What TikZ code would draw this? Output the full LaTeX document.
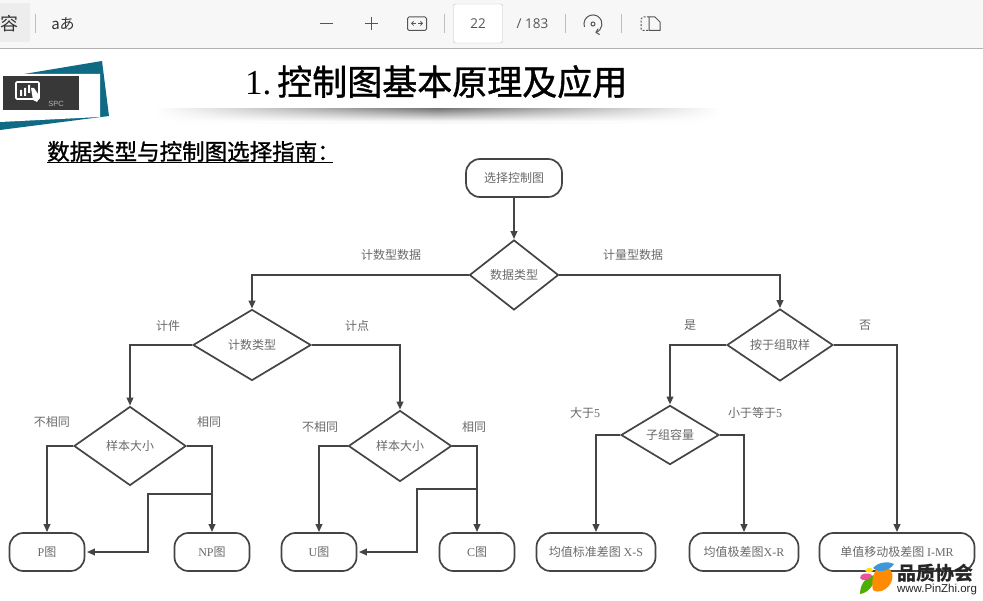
\documentclass[tikz,border=0pt]{standalone}
\usepackage{fontspec}
\setmainfont{Liberation Sans}
\newfontfamily\cjk{Noto Sans CJK SC}
\newfontfamily\cjkm[FakeBold=1.2]{Noto Sans CJK SC}
\newfontfamily\jpf{Noto Sans CJK JP}
\newfontfamily\serifl{Liberation Serif}
\newfontfamily\uif{Open Sans}
\usetikzlibrary{shapes.geometric,arrows.meta}
\definecolor{line}{HTML}{444444}
\definecolor{lab}{HTML}{6A6A6A}
\definecolor{teal1}{HTML}{0F6A84}
\definecolor{tool}{HTML}{555555}
\tikzset{
 conn/.style={draw=line,line width=2pt},
 flow/.style={conn,-{Triangle[length=8pt,width=6.5pt]}},
 dia/.style={diamond,draw=line,line width=1.7pt,inner sep=0pt,fill=white,text=lab,font=\cjk\fontsize{12}{12}\selectfont},
 term/.style={rectangle,rounded corners=14pt,draw=line,line width=1.7pt,inner sep=0pt,minimum height=38pt,text=lab,font=\cjk\fontsize{12}{12}\selectfont},
 lbl/.style={text=lab,inner sep=0pt,font=\cjk\fontsize{12}{12}\selectfont},
 icon/.style={draw=tool,line width=1pt},
}
\newcommand{\lat}[1]{{\serifl #1}}
\begin{document}
\begin{tikzpicture}[x=1pt,y=-1pt]
\useasboundingbox (0,0) rectangle (983,601);
\clip (0,0) rectangle (983,601);
\fill[white] (0,0) rectangle (983,601);
% toolbar
\fill[black!3] (0,0) rectangle (983,48);
\fill[black!7] (0,3) rectangle (30,42);
\draw[black!30,line width=.8pt] (0,48.5) -- (983,48.5);
\node[inner sep=0pt,text=black!80,font=\cjk\fontsize{18}{18}\selectfont] (tb1) at (9,24) {容};
\draw[black!25] (35.5,14) -- (35.5,33);
\node[inner sep=0pt,text=black!80,font=\jpf\fontsize{15}{15}\selectfont] (tb2) at (63,24) {aあ};
\draw[icon] (320,23.5) -- (333,23.5);
\draw[icon] (365,23.5) -- (378,23.5) (371.5,17) -- (371.5,30);
\draw[icon,rounded corners=1.5pt] (407.5,17) rectangle (426.5,30.5);
\draw[tool,line width=.8pt,-{Straight Barb[length=2pt]}] (416,23.5) -- (411,23.5);
\draw[tool,line width=.8pt,-{Straight Barb[length=2pt]}] (418,23.5) -- (423,23.5);
\draw[black!25] (444.5,14) -- (444.5,33);
\node[draw=black!25,fill=white,rounded corners=1.5pt,minimum width=49pt,minimum height=39pt,inner sep=0pt,text=tool,font=\uif\fontsize{13.5}{13.5}\selectfont] (page) at (478,23.5) {22};
\node[inner sep=0pt,text=tool,font=\uif\fontsize{13.5}{13.5}\selectfont] (total) at (532.5,24) {/ 183};
\draw[black!25] (565.5,14) -- (565.5,33);
\draw[icon,-{Straight Barb[length=3pt]}] (584.5,27) arc[start angle=200,end angle=-75,radius=9pt];
\draw[icon] (593,24) circle (2pt);
\draw[black!25] (621.5,14) -- (621.5,33);
\draw[icon,dash pattern=on 2pt off 1.5pt] (649,17) -- (643,17) -- (641,19) -- (641,29) -- (643,30.5) -- (649,30.5);
\draw[icon] (649,17) -- (655,17) -- (660,22) -- (660,30.5) -- (649,30.5) -- cycle;
% logo
\fill[teal1] (0,78) -- (102,61) -- (109,116) -- (0,130) -- cycle;
\fill[white] (0,74) -- (100,74) -- (100,117) -- (0,122) -- cycle;
\fill[black!78] (3,76) rectangle (79,110);
\draw[white,line width=1.6pt,rounded corners=1pt] (16,82) rectangle (39,99);
\fill[white] (20,90) rectangle (22,96) (24,88) rectangle (26,96) (28,85) rectangle (30,93);
\fill[white] (31,88) -- (34,88) -- (40,97) -- (37,102) -- (33,100) -- cycle;
\node[inner sep=0pt,text=black!30,font=\fontsize{7.5}{7.5}\selectfont] (spc) at (56,103.5) {SPC};
% title
\foreach \r in {0,...,13}{
  \pgfmathtruncatemacro{\g}{55-\r*4}
  \pgfmathsetmacro{\ya}{109+\r}
  \pgfmathsetmacro{\yb}{110.2+\r}
  \shade[left color=white,right color=white,middle color=black!\g] (155,\ya) rectangle (720,\yb);
}
\node[anchor=base west,inner sep=0pt,text=black,font=\fontsize{35}{35}\selectfont] (title) at (245,95) {{\serifl 1.}\,{\cjkm 控制图基本原理及应用}};
\node[anchor=base west,inner sep=0pt,text=black,font=\cjkm\fontsize{22.5}{22.5}\selectfont] (sub) at (47,160) {数据类型与控制图选择指南：};
\draw[black,line width=1pt] (47,162.5) -- (333,162.5);
% flow nodes
\node[term,minimum width=96pt] (start) at (514,178) {选择控制图};
\node[dia,minimum width=89pt,minimum height=70pt] (d1) at (514,275) {数据类型};
\node[dia,minimum width=118pt,minimum height=71pt] (d2) at (252,345) {计数类型};
\node[dia,minimum width=106pt,minimum height=72pt] (d3) at (780,345) {按于组取样};
\node[dia,minimum width=112pt,minimum height=79pt] (d4) at (130,446) {样本大小};
\node[dia,minimum width=103pt,minimum height=71pt] (d5) at (400,446) {样本大小};
\node[dia,minimum width=98pt,minimum height=58pt] (d6) at (670,435) {子组容量};
\node[term,minimum width=75pt] (p) at (47,552) {\lat{P}图};
\node[term,minimum width=75pt] (np) at (212,552) {\lat{NP}图};
\node[term,minimum width=75pt] (u) at (319,552) {\lat{U}图};
\node[term,minimum width=75pt] (c) at (477,552) {\lat{C}图};
\node[term,minimum width=119pt] (xs) at (596,552) {均值标准差图 \lat{X-S}};
\node[term,minimum width=109pt] (xr) at (744,552) {均值极差图\lat{X-R}};
\node[term,minimum width=155pt] (mr) at (897,552) {单值移动极差图 \lat{I-MR}};
% labels
\node[lbl] (l1) at (391,255) {计数型数据};
\node[lbl] (l2) at (633,255) {计量型数据};
\node[lbl] (l3) at (168,326) {计件};
\node[lbl] (l4) at (357,326) {计点};
\node[lbl] (l5) at (690,325) {是};
\node[lbl] (l6) at (865,325) {否};
\node[lbl] (l7) at (52,422) {不相同};
\node[lbl] (l8) at (209,422) {相同};
\node[lbl] (l9) at (320,427) {不相同};
\node[lbl] (l10) at (474,427) {相同};
\node[lbl] (l11) at (585,413) {大于\lat{5}};
\node[lbl] (l12) at (755,413) {小于等于\lat{5}};
% connectors
\draw[flow] (start) -- (d1);
\draw[flow] (d1.west) -| (d2.north);
\draw[flow] (d1.east) -| (d3.north);
\draw[flow] (d2.west) -| (d4.north);
\draw[flow] (d2.east) -| (d5.north);
\draw[flow] (d3.west) -| (d6.north);
\draw[flow] (d3.east) -| (mr.north);
\draw[flow] (d4.west) -| (p.north);
\draw[flow] (d4.east) -| (np.north);
\draw[flow] (d5.west) -| (u.north);
\draw[flow] (d5.east) -| (c.north);
\draw[flow] (d6.west) -| (xs.north);
\draw[flow] (d6.east) -| (xr.north);
\coordinate (b1) at (212,494);
\coordinate (b1a) at (148,494);
\coordinate (b1b) at (148,552);
\coordinate (b2) at (477,489);
\coordinate (b2a) at (417,489);
\coordinate (b2b) at (417,552);
\draw[flow] (b1) -- (b1a) -- (b1b) -- ([xshift=1.5pt]p.east);
\draw[flow] (b2) -- (b2a) -- (b2b) -- ([xshift=1.5pt]u.east);
% watermark
\fill[green!55!black!70!yellow] (860,594) .. controls (860,582) and (868,576) .. (875,575) .. controls (875,585) and (868,593) .. (860,594) -- cycle;
\fill[orange!90!yellow] (879,566) .. controls (889,565) and (894,572) .. (892,580) .. controls (889,590) and (878,594) .. (873,590) .. controls (871,582) and (873,572) .. (879,566) -- cycle;
\fill[cyan!70!blue!80] (873,568) .. controls (878,562) and (888,561) .. (894,564) .. controls (890,570) and (880,574) .. (873,568) -- cycle;
\fill[magenta!60!pink] (860,578) .. controls (860,573) and (868,572) .. (872,575) .. controls (870,580) and (862,582) .. (860,578) -- cycle;
\fill[yellow!85!orange] (865,570) .. controls (869,566) and (873,568) .. (873,571) .. controls (870,573) and (866,573) .. (865,570) -- cycle;
\node[inner sep=0pt,text=black!85,font=\cjk\bfseries\fontsize{19}{19}\selectfont] (wm1) at (935.5,573) {品质协会};
\node[inner sep=0pt,text=black!85,font=\fontsize{11.5}{11.5}\selectfont] (wm2) at (937,589.5) {www.PinZhi.org};
\end{tikzpicture}
\end{document}
